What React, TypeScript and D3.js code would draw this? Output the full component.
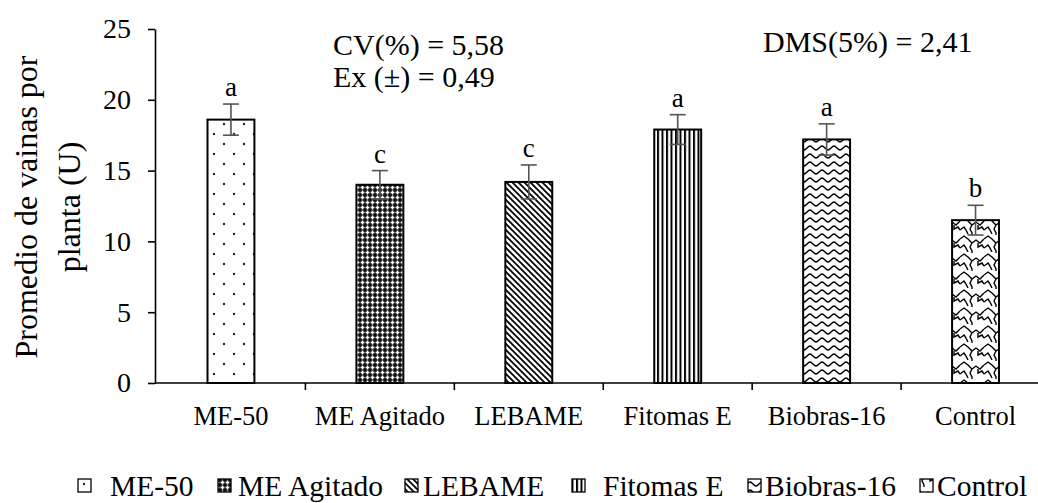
import * as d3 from "d3";
import React, { useEffect, useRef } from "react";

const categories = ["ME-50", "ME Agitado", "LEBAME", "Fitomas E", "Biobras-16", "Control"];
const means = [18.6, 14.0, 14.2, 17.9, 17.2, 11.5];
const errors = [1.1, 1.0, 1.2, 1.05, 1.1, 1.05];
const letters = ["a", "c", "c", "a", "a", "b"];
const yTicks = [0, 5, 10, 15, 20, 25];
const patternIds = ["p-dots", "p-plaid", "p-diag", "p-vert", "p-wave", "p-weave"];
const statsLeft = ["CV(%) = 5,58", "Ex (±) = 0,49"];
const statsRight = "DMS(5%) = 2,41";
const yTitle = ["Promedio de vainas por", "planta (U)"];

// legend layout (swatch x, text x)
const legendSwatchX = [78, 218, 405, 572, 748, 920];
const legendTextX = [110, 238, 423, 603, 765, 937];

const W = 1038;
const H = 503;
const FONT = "'Liberation Serif', 'Times New Roman', serif";

const Chart: React.FC = () => {
  const ref = useRef<SVGSVGElement>(null);

  useEffect(() => {
    if (!ref.current) return;
    const svg = d3.select(ref.current);
    svg.selectAll("g.chart").remove();
    const g = svg.append("g").attr("class", "chart");

    const x = d3
      .scaleBand()
      .domain(categories)
      .range([156.5, 1050])
      .paddingInner(0.685)
      .paddingOuter(0.3425);
    const y = d3.scaleLinear().domain([0, 25]).range([383, 29]);

    // bars
    g.selectAll("rect.bar")
      .data(categories)
      .enter()
      .append("rect")
      .attr("class", "bar")
      .attr("x", (d) => x(d)!)
      .attr("y", (_, i) => y(means[i]))
      .attr("width", x.bandwidth())
      .attr("height", (_, i) => y(0) - y(means[i]))
      .attr("fill", (_, i) => `url(#${patternIds[i]})`)
      .attr("stroke", "#000")
      .attr("stroke-width", 2);

    // error bars
    const eb = g
      .selectAll("g.err")
      .data(categories)
      .enter()
      .append("g")
      .attr("class", "err")
      .attr("stroke", "#555")
      .attr("stroke-width", 1.6);
    const cx = (d: string) => x(d)! + x.bandwidth() / 2;
    eb.append("line")
      .attr("x1", cx)
      .attr("x2", cx)
      .attr("y1", (_, i) => y(means[i] + errors[i]))
      .attr("y2", (_, i) => y(means[i] - errors[i]));
    eb.append("line")
      .attr("x1", (d) => cx(d) - 8)
      .attr("x2", (d) => cx(d) + 8)
      .attr("y1", (_, i) => y(means[i] + errors[i]))
      .attr("y2", (_, i) => y(means[i] + errors[i]));
    eb.append("line")
      .attr("x1", (d) => cx(d) - 8)
      .attr("x2", (d) => cx(d) + 8)
      .attr("y1", (_, i) => y(means[i] - errors[i]))
      .attr("y2", (_, i) => y(means[i] - errors[i]));

    // significance letters
    g.selectAll("text.letter")
      .data(categories)
      .enter()
      .append("text")
      .attr("class", "letter")
      .attr("x", cx)
      .attr("y", (_, i) => y(means[i] + errors[i]) - 8)
      .attr("text-anchor", "middle")
      .attr("font-family", FONT)
      .attr("font-size", 27)
      .text((_, i) => letters[i]);

    // y axis
    const yAxis = g
      .append("g")
      .attr("transform", "translate(155,0)")
      .call(d3.axisLeft(y).tickValues(yTicks).tickSize(7).tickSizeOuter(0).tickPadding(17));
    yAxis.selectAll("path,line").attr("stroke", "#000").attr("stroke-width", 1.6);
    yAxis
      .selectAll("text")
      .attr("font-family", FONT)
      .attr("font-size", 28)
      .attr("fill", "#000");

    // x axis
    g.append("line")
      .attr("x1", 155)
      .attr("x2", W)
      .attr("y1", y(0))
      .attr("y2", y(0))
      .attr("stroke", "#000")
      .attr("stroke-width", 1.6);
    const gap = (x.step() - x.bandwidth()) / 2;
    g.selectAll("line.xtick")
      .data(categories.slice(1))
      .enter()
      .append("line")
      .attr("class", "xtick")
      .attr("x1", (d) => x(d)! - gap)
      .attr("x2", (d) => x(d)! - gap)
      .attr("y1", y(0))
      .attr("y2", y(0) + 7)
      .attr("stroke", "#000")
      .attr("stroke-width", 1.6);
    g.selectAll("text.xlab")
      .data(categories)
      .enter()
      .append("text")
      .attr("class", "xlab")
      .attr("x", cx)
      .attr("y", 425)
      .attr("text-anchor", "middle")
      .attr("font-family", FONT)
      .attr("font-size", 26.5)
      .text((d) => d);

    // y title
    g.selectAll("text.ytitle")
      .data(yTitle)
      .enter()
      .append("text")
      .attr("class", "ytitle")
      .attr("transform", (_, i) => `translate(${i === 0 ? 37 : 80},207) rotate(-90)`)
      .attr("text-anchor", "middle")
      .attr("font-family", FONT)
      .attr("font-size", 32)
      .text((d) => d);

    // stats
    g.selectAll("text.stat")
      .data(statsLeft)
      .enter()
      .append("text")
      .attr("class", "stat")
      .attr("x", 333)
      .attr("y", (_, i) => 55 + i * 32)
      .attr("font-family", FONT)
      .attr("font-size", 30)
      .text((d) => d);
    g.append("text")
      .attr("x", 763)
      .attr("y", 52)
      .attr("font-family", FONT)
      .attr("font-size", 30)
      .text(statsRight);

    // legend
    const lg = g
      .selectAll("g.leg")
      .data(categories)
      .enter()
      .append("g")
      .attr("class", "leg");
    lg.append("rect")
      .attr("x", (_, i) => legendSwatchX[i])
      .attr("y", 479)
      .attr("width", 13)
      .attr("height", 13)
      .attr("fill", (_, i) => `url(#${patternIds[i]})`)
      .attr("stroke", "#000")
      .attr("stroke-width", 1.3);
    lg.append("text")
      .attr("x", (_, i) => legendTextX[i])
      .attr("y", 496)
      .attr("font-family", FONT)
      .attr("font-size", 29.5)
      .text((d) => d);
  }, []);

  return (
    <svg
      ref={ref}
      width={W}
      height={H}
      style={{ position: "absolute", left: 0, top: 0, background: "#fff" }}
    >
      <defs>
        <pattern id="p-dots" width={20} height={20} patternUnits="userSpaceOnUse">
          <rect width={20} height={20} fill="#fff" />
          <circle cx={4} cy={4} r={1.2} fill="#222" />
          <circle cx={14} cy={14} r={1.2} fill="#222" />
        </pattern>
        <pattern id="p-plaid" width={5} height={5} patternUnits="userSpaceOnUse">
          <rect width={5} height={5} fill="#111" />
          <path d="M2.5,0.6V4.4M0.6,2.5H4.4" stroke="#fff" strokeWidth={1.5} />
        </pattern>
        <pattern id="p-diag" width={6} height={6} patternUnits="userSpaceOnUse">
          <rect width={6} height={6} fill="#fff" />
          <path d="M0,0L6,6M-1,5L1,7M5,-1L7,1" stroke="#000" strokeWidth={1.8} />
        </pattern>
        <pattern id="p-vert" width={4.5} height={10} patternUnits="userSpaceOnUse">
          <rect width={4.5} height={10} fill="#fff" />
          <line x1={1} x2={1} y1={0} y2={10} stroke="#000" strokeWidth={2} />
        </pattern>
        <pattern id="p-wave" width={12} height={8} patternUnits="userSpaceOnUse">
          <rect width={12} height={8} fill="#fff" />
          <path d="M0,6C2,6 4,2 6,2C8,2 10,6 12,6" fill="none" stroke="#000" strokeWidth={1.5} />
        </pattern>
        <pattern id="p-weave" width={24} height={18} patternUnits="userSpaceOnUse">
          <rect width={24} height={18} fill="#fff" />
          <path
            d="M0,5L4,2L8,5L12,9L16,6L20,9L24,5M12,9L10,13L12,17L12,18M0,14L4,11L6,14L8,18M18,9L18,13L22,11L24,14M12,0L12,1"
            fill="none"
            stroke="#000"
            strokeWidth={1.4}
          />
        </pattern>
      </defs>
    </svg>
  );
};

export default function App() {
  return <Chart />;
}
